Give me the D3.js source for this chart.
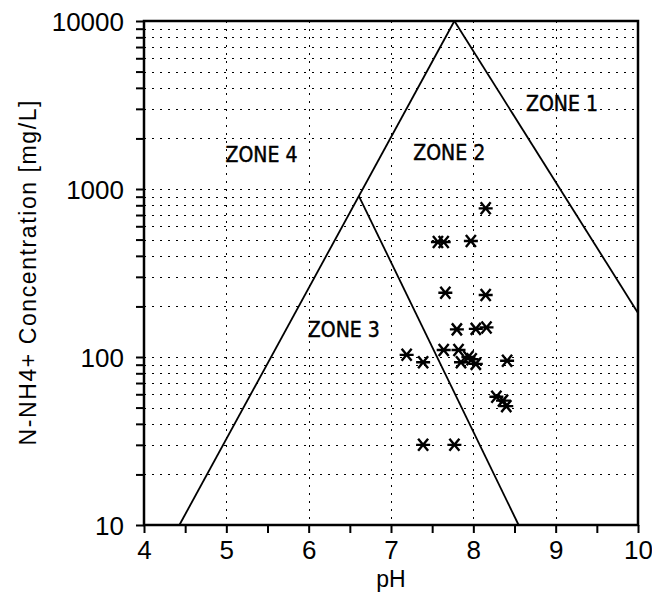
<!DOCTYPE html>
<html>
<head>
<meta charset="utf-8">
<script src="https://cdn.jsdelivr.net/npm/d3@7"></script>
<style>
  html, body { margin: 0; padding: 0; background: #fff; }
  svg { display: block; }
  .tick-label { font-family: "Liberation Sans", Arial, sans-serif; font-size: 26px; fill: #000; }
  .axis-title { font-family: "Liberation Sans", Arial, sans-serif; font-size: 23px; fill: #000; }
  .zone-label { font-family: "DejaVu Sans", sans-serif; font-size: 22px; fill: #000; stroke: #000; stroke-width: 0.5px; }
</style>
</head>
<body>
<div id="chart"></div>
<script>
// --- data ---
const phTicks = [4, 5, 6, 7, 8, 9, 10];
const concTicks = [10, 100, 1000, 10000];

// measured samples (pH, N-NH4+ mg/L)
const samplePh = [8.15, 7.57, 7.64, 7.97, 7.66, 8.15, 7.80, 8.03, 8.16,
                  7.19, 7.39, 7.64, 7.82, 7.85, 7.94, 7.98, 8.03, 8.41,
                  8.28, 8.36, 8.40, 7.39, 7.77];
const sampleConc = [767, 484, 484, 490, 241, 234, 146, 147, 150,
                    103, 93, 110, 110, 93, 100, 97, 91, 95,
                    58, 55, 51, 30, 30];

// zone boundary lines
const boundaryLeft = [[4.43, 10], [7.77, 10000]];
const boundaryRight = [[7.77, 10000], [10, 183]];
const boundaryInner = [[6.61, 908], [8.55, 10]];

// zone labels, anchored at (pH, conc) of their lower-left corner
const zoneNames = ["ZONE 1", "ZONE 2", "ZONE 3", "ZONE 4"];
const zonePh = [8.64, 7.27, 5.99, 4.99];
const zoneConc = [2911, 1480, 131, 1450];

// --- layout ---
const width = 652, height = 596;
const margin = { top: 21, right: 14, bottom: 71, left: 144 };

const x = d3.scaleLinear().domain([4, 10]).range([margin.left, width - margin.right]);
const y = d3.scaleLog().domain([10, 10000]).range([height - margin.bottom, margin.top]);

const svg = d3.select("#chart").append("svg")
  .attr("width", width)
  .attr("height", height);

// minor values for the log axis: 10,20,...,90,100,200,...
const minorConc = [];
for (let d = 10; d < 10000; d *= 10) {
  for (let k = 1; k < 10; k++) minorConc.push(d * k);
}
minorConc.push(10000);

const halfPh = d3.range(4, 10.01, 0.5);

// grid
const grid = svg.append("g")
  .attr("stroke", "#000")
  .attr("stroke-width", 1)
  .attr("stroke-dasharray", "2,6");

grid.selectAll("line.h")
  .data(minorConc.filter(v => v > 10 && v < 10000))
  .enter().append("line")
  .attr("x1", x(4)).attr("x2", x(10))
  .attr("y1", d => Math.round(y(d)) + 0.5)
  .attr("y2", d => Math.round(y(d)) + 0.5);

grid.selectAll("line.v")
  .data(phTicks.filter(v => v > 4 && v < 10))
  .enter().append("line")
  .attr("x1", d => Math.round(x(d)) + 0.5)
  .attr("x2", d => Math.round(x(d)) + 0.5)
  .attr("y1", y(10000)).attr("y2", y(10));

// axes
const xAxis = d3.axisBottom(x)
  .tickValues(halfPh)
  .tickSize(8)
  .tickFormat(d => Number.isInteger(d) ? d : "");

const yAxis = d3.axisLeft(y)
  .tickValues(minorConc)
  .tickSize(8)
  .tickFormat(d => concTicks.includes(d) ? d : "");

const gx = svg.append("g")
  .attr("transform", `translate(0,${y(10)})`)
  .call(xAxis);
gx.select(".domain").remove();
gx.selectAll(".tick line").attr("stroke", "#000").attr("stroke-width", 2);
gx.selectAll(".tick text")
  .attr("class", "tick-label")
  .attr("dy", null)
  .attr("y", 34);

const gy = svg.append("g")
  .attr("transform", `translate(${x(4)},0)`)
  .call(yAxis);
gy.select(".domain").remove();
gy.selectAll(".tick line").attr("stroke", "#000").attr("stroke-width", 2);
gy.selectAll(".tick text")
  .attr("class", "tick-label")
  .attr("x", -20)
  .attr("dy", "0.36em");

// frame
svg.append("rect")
  .attr("x", x(4)).attr("y", y(10000))
  .attr("width", x(10) - x(4))
  .attr("height", y(10) - y(10000))
  .attr("fill", "none")
  .attr("stroke", "#000")
  .attr("stroke-width", 2.5);

// zone boundaries
const line = d3.line().x(d => x(d[0])).y(d => y(d[1]));
svg.selectAll("path.boundary")
  .data([boundaryLeft, boundaryRight, boundaryInner])
  .enter().append("path")
  .attr("class", "boundary")
  .attr("d", line)
  .attr("fill", "none")
  .attr("stroke", "#000")
  .attr("stroke-width", 1.8);

// zone labels
svg.selectAll("text.zone-label")
  .data(zoneNames)
  .enter().append("text")
  .attr("class", "zone-label")
  .attr("x", (d, i) => x(zonePh[i]))
  .attr("y", (d, i) => y(zoneConc[i]))
  .attr("textLength", 72)
  .attr("lengthAdjust", "spacingAndGlyphs")
  .text(d => d);

// asterisk markers
const star = "M-7,0L7,0M-5,-6L5,6M-5,6L5,-6";
svg.selectAll("path.sample")
  .data(samplePh)
  .enter().append("path")
  .attr("class", "sample")
  .attr("transform", (d, i) => `translate(${x(d)},${y(sampleConc[i])})`)
  .attr("d", star)
  .attr("fill", "none")
  .attr("stroke", "#000")
  .attr("stroke-width", 2.4);

// axis titles
svg.append("text")
  .attr("class", "axis-title")
  .attr("x", (x(4) + x(10)) / 2)
  .attr("y", 587)
  .attr("text-anchor", "middle")
  .text("pH");

svg.append("text")
  .attr("class", "axis-title")
  .attr("transform", `translate(36,${(y(10) + y(10000)) / 2}) rotate(-90)`)
  .attr("text-anchor", "middle")
  .attr("textLength", 345)
  .attr("lengthAdjust", "spacing")
  .text("N-NH4+ Concentration [mg/L]");
</script>
</body>
</html>
